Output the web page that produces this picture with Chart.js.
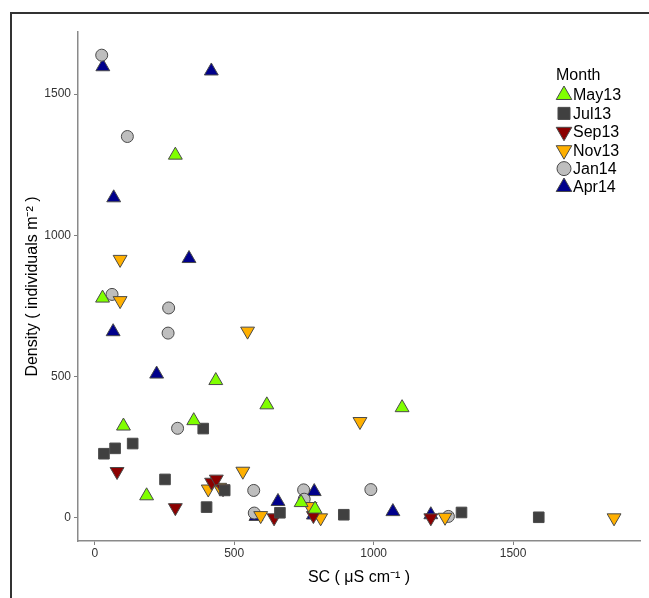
<!DOCTYPE html>
<html>
<head>
<meta charset="utf-8">
<script src="https://cdn.jsdelivr.net/npm/chart.js@4.4.1/dist/chart.umd.min.js"></script>
<style>
  html, body { margin: 0; padding: 0; background: #fff; }
  #wrap { position: relative; width: 649px; height: 598px; }
</style>
</head>
<body>
<div id="wrap"><canvas id="scChart" width="649" height="598"></canvas></div>
<script>
// Series (x = SC, y = density)
const months = ['May13', 'Jul13', 'Sep13', 'Nov13', 'Jan14', 'Apr14'];

const may13SC      = [28, 289, 434, 617, 103, 355, 186, 740, 790, 1102];
const may13Density = [778, 1284, 486, 400, 325, 344, 78, 54, 31, 390];

const jul13SC      = [33, 73, 136, 389, 252, 401, 466, 664, 893, 1315, 1592];
const jul13Density = [227, 246, 263, 316, 136, 38, 97, 18, 11, 19, 2];

const sep13SC      = [80, 289, 419, 436, 460, 643, 784, 1205];
const sep13Density = [164, 36, 126, 137, 103, 0, 8, 0];

const nov13SC      = [91, 91, 548, 531, 407, 448, 595, 772, 810, 951, 1256, 1862];
const nov13Density = [915, 769, 661, 165, 102, 108, 8, 40, 0, 341, 2, 0];

const jan14SC      = [25, 117, 62, 265, 263, 297, 570, 572, 749, 751, 990, 1268];
const jan14Density = [1638, 1350, 791, 743, 654, 317, 97, 17, 99, 66, 100, 5];

const apr14SC      = [29, 418, 68, 338, 66, 222, 578, 657, 787, 784, 1069, 1205];
const apr14Density = [1597, 1582, 1133, 918, 659, 509, 5, 58, 93, 10, 22, 11];

const xTicks = [0, 500, 1000, 1500];
const yTicks = [0, 500, 1000, 1500];

function toPoints(xs, ys) {
    return xs.map((x, i) => ({ x: x, y: ys[i] }));
}

const seriesX = [may13SC, jul13SC, sep13SC, nov13SC, jan14SC, apr14SC];
const seriesY = [may13Density, jul13Density, sep13Density, nov13Density, jan14Density, apr14Density];
const fills   = ['#80FF00', '#404040', '#8B0000', '#FFB000', '#BEBEBE', '#00008B'];
const styles  = ['triangle', 'rect', 'triangle', 'triangle', 'circle', 'triangle'];
const rotations = [0, 0, 180, 180, 0, 0];
const radii   = [8, 7.5, 8, 8, 6, 8];

const datasets = months.map((m, k) => ({
    label: m,
    data: toPoints(seriesX[k], seriesY[k]),
    pointStyle: styles[k],
    rotation: rotations[k],
    pointRadius: radii[k],
    pointHoverRadius: radii[k],
    backgroundColor: fills[k],
    borderColor: '#4a4a4a',
    borderWidth: 1
}));

// outer frame (left + top only, like the cropped source)
const framePlugin = {
    id: 'frame',
    beforeDraw(chart) {
        const c = chart.ctx;
        c.save();
        c.fillStyle = '#fff';
        c.fillRect(0, 0, chart.width, chart.height);
        c.strokeStyle = '#333';
        c.lineWidth = 2;
        c.beginPath();
        c.moveTo(11, chart.height);
        c.lineTo(11, 13);
        c.lineTo(chart.width, 13);
        c.stroke();
        c.restore();
    }
};

// legend inside the panel, top right
const legendPlugin = {
    id: 'monthLegend',
    afterDraw(chart) {
        const c = chart.ctx;
        c.save();
        c.textBaseline = 'middle';
        c.textAlign = 'left';
        c.font = '16px "Liberation Sans", Arial, sans-serif';
        c.fillStyle = '#000';
        c.fillText('Month', 556, 76);
        chart.data.datasets.forEach((ds, i) => {
            const y = 95 + i * 18.4;
            c.fillStyle = ds.backgroundColor;
            c.strokeStyle = ds.borderColor;
            c.lineWidth = 1;
            Chart.helpers.drawPoint(c, {
                pointStyle: ds.pointStyle,
                rotation: ds.rotation,
                radius: ds.pointRadius + 1,
                borderWidth: 1
            }, 564, y);
            c.fillStyle = '#000';
            c.fillText(ds.label, 573, y + 1);
        });
        c.restore();
    }
};

const tickFont = { family: '"Liberation Sans", Arial, sans-serif', size: 12 };
const titleFont = { family: '"Liberation Sans", Arial, sans-serif', size: 16 };

const ctx = document.getElementById('scChart').getContext('2d');
new Chart(ctx, {
    type: 'scatter',
    data: { datasets: datasets },
    options: {
        responsive: false,
        animation: false,
        layout: { padding: { left: 10, top: 32, right: 1, bottom: 0 } },
        plugins: {
            legend: { display: false },
            tooltip: { enabled: false }
        },
        scales: {
            x: {
                type: 'linear',
                min: -60,
                max: 1955,
                afterFit(scale) { scale.height = 57; },
                afterBuildTicks(scale) { scale.ticks = xTicks.map(v => ({ value: v })); },
                grid: { display: true, drawOnChartArea: false, drawTicks: true, tickLength: 4, color: '#7f7f7f' },
                border: { display: true, color: '#8a8a8a', width: 1.5 },
                ticks: { padding: 1, color: '#333', font: tickFont, callback: v => String(v) },
                title: {
                    display: true,
                    text: 'SC ( \u03bcS cm\u207b\u00b9 )',
                    color: '#000',
                    font: titleFont,
                    padding: { top: 0, bottom: 11 }
                }
            },
            y: {
                type: 'linear',
                min: -82,
                max: 1720,
                afterFit(scale) { scale.width = 68; },
                afterBuildTicks(scale) { scale.ticks = yTicks.map(v => ({ value: v })); },
                grid: { display: true, drawOnChartArea: false, drawTicks: true, tickLength: 4, color: '#7f7f7f' },
                border: { display: true, color: '#8a8a8a', width: 1.5 },
                ticks: { padding: 3, color: '#333', font: tickFont, callback: v => String(v) },
                title: {
                    display: true,
                    text: 'Density ( individuals m\u207b\u00b2 )',
                    color: '#000',
                    font: titleFont,
                    padding: { top: 13, bottom: 0 }
                }
            }
        }
    },
    plugins: [framePlugin, legendPlugin]
});
</script>
</body>
</html>
